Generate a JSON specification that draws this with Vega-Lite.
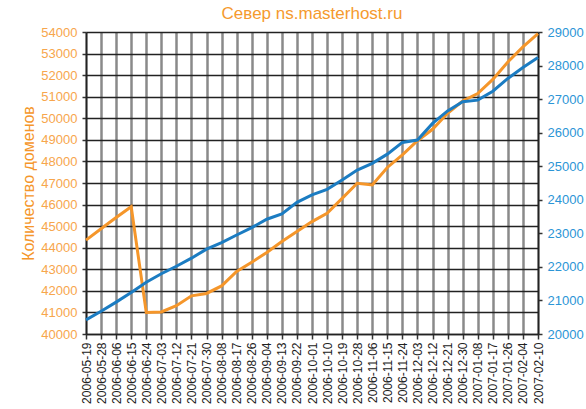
{
  "$schema": "https://vega.github.io/schema/vega-lite/v6.json",
  "autosize": {"type": "none"},
  "padding": {"left": 86, "top": 32, "right": 48, "bottom": 75},
  "width": 452,
  "height": 302,
  "background": "white",
  "config": {
    "view": {"stroke": null},
    "font": "Liberation Sans"
  },
  "title": {
    "text": "Север ns.masterhost.ru",
    "color": "#f59a2e",
    "fontSize": 17,
    "fontWeight": "normal",
    "font": "Liberation Sans",
    "anchor": "middle",
    "offset": 3
  },
  "data": {
    "values": [
      {"date": "2006-05-19", "left_series": 44350, "right_series": 20420},
      {"date": "2006-05-28", "left_series": 44880, "right_series": 20680},
      {"date": "2006-06-06", "left_series": 45400, "right_series": 20950},
      {"date": "2006-06-15", "left_series": 45900, "right_series": 21240},
      {"date": "2006-06-24", "left_series": 41000, "right_series": 21545},
      {"date": "2006-07-03", "left_series": 41020, "right_series": 21795},
      {"date": "2006-07-12", "left_series": 41310, "right_series": 22020},
      {"date": "2006-07-21", "left_series": 41770, "right_series": 22260},
      {"date": "2006-07-30", "left_series": 41880, "right_series": 22530},
      {"date": "2006-08-08", "left_series": 42230, "right_series": 22725},
      {"date": "2006-08-17", "left_series": 42900, "right_series": 22950},
      {"date": "2006-08-26", "left_series": 43330, "right_series": 23170},
      {"date": "2006-09-04", "left_series": 43780, "right_series": 23420},
      {"date": "2006-09-13", "left_series": 44290, "right_series": 23580},
      {"date": "2006-09-22", "left_series": 44750, "right_series": 23925},
      {"date": "2006-10-01", "left_series": 45210, "right_series": 24145},
      {"date": "2006-10-10", "left_series": 45600, "right_series": 24310},
      {"date": "2006-10-19", "left_series": 46290, "right_series": 24590},
      {"date": "2006-10-28", "left_series": 46990, "right_series": 24885},
      {"date": "2006-11-06", "left_series": 46910, "right_series": 25085},
      {"date": "2006-11-15", "left_series": 47720, "right_series": 25360},
      {"date": "2006-11-24", "left_series": 48300, "right_series": 25710},
      {"date": "2006-12-03", "left_series": 48960, "right_series": 25780},
      {"date": "2006-12-12", "left_series": 49490, "right_series": 26275},
      {"date": "2006-12-21", "left_series": 50230, "right_series": 26650},
      {"date": "2006-12-30", "left_series": 50800, "right_series": 26920},
      {"date": "2007-01-08", "left_series": 51150, "right_series": 26970},
      {"date": "2007-01-17", "left_series": 51800, "right_series": 27235},
      {"date": "2007-01-26", "left_series": 52610, "right_series": 27615},
      {"date": "2007-02-04", "left_series": 53310, "right_series": 27940},
      {"date": "2007-02-10", "left_series": 53930, "right_series": 28240}
    ]
  },
  "encoding": {
    "x": {
      "field": "date",
      "type": "ordinal",
      "sort": null,
      "scale": {"type": "point", "padding": 0},
      "axis": {
        "title": null,
        "labelAngle": -90,
        "labelFontSize": 12,
        "labelColor": "#222222",
        "labelFont": "Liberation Sans",
        "labelPadding": 3,
        "tickSize": 5,
        "tickColor": "#333333",
        "tickWidth": 1.5,
        "domainColor": "#222222",
        "domainWidth": 1.5,
        "grid": true,
        "gridColor": "#8a8a8a",
        "gridWidth": 2.5
      }
    }
  },
  "layer": [
    {
      "mark": {"type": "line", "color": "#f5962a", "strokeWidth": 3},
      "encoding": {
        "y": {
          "field": "left_series",
          "type": "quantitative",
          "scale": {"domain": [40000, 54000], "nice": false, "zero": false},
          "axis": {
            "orient": "left",
            "values": [40000, 41000, 42000, 43000, 44000, 45000, 46000, 47000, 48000, 49000, 50000, 51000, 52000, 53000, 54000],
            "format": "d",
            "title": "Количество доменов",
            "titleColor": "#f5962a",
            "titleFontSize": 16,
            "titleFontWeight": "normal",
            "titleFont": "Liberation Sans",
            "titlePadding": 4,
            "labelColor": "#f7a64c",
            "labelFontSize": 13,
            "labelFont": "Liberation Sans",
            "labelPadding": 5,
            "tickSize": 4,
            "tickColor": "#333333",
            "tickWidth": 1.5,
            "domainColor": "#222222",
            "domainWidth": 1.5,
            "grid": true,
            "gridColor": "#222222",
            "gridWidth": 1.5
          }
        }
      }
    },
    {
      "mark": {"type": "line", "color": "#1b7cc2", "strokeWidth": 3},
      "encoding": {
        "y": {
          "field": "right_series",
          "type": "quantitative",
          "scale": {"domain": [20000, 29000], "nice": false, "zero": false},
          "axis": {
            "orient": "right",
            "values": [20000, 21000, 22000, 23000, 24000, 25000, 26000, 27000, 28000, 29000],
            "format": "d",
            "title": null,
            "labelColor": "#2b95d6",
            "labelFontSize": 13,
            "labelFont": "Liberation Sans",
            "labelPadding": 5,
            "tickSize": 4,
            "tickColor": "#333333",
            "tickWidth": 1.5,
            "domainColor": "#222222",
            "domainWidth": 1.5,
            "grid": false
          }
        }
      }
    }
  ],
  "resolve": {"scale": {"y": "independent"}}
}
